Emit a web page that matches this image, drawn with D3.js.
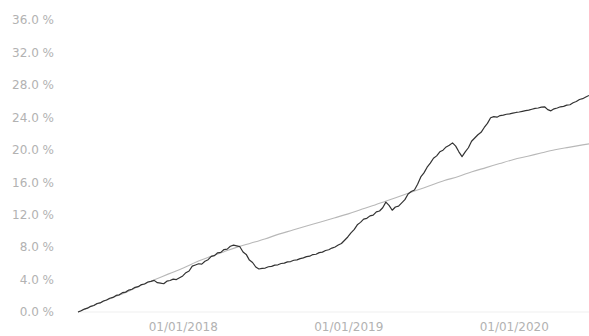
<!DOCTYPE html>
<html>
<head>
<meta charset="utf-8">
<script src="https://cdn.jsdelivr.net/npm/d3@7"></script>
<style>
  html, body { margin: 0; padding: 0; background: #fff; }
  svg { display: block; }
</style>
</head>
<body>
<svg id="chart" width="589" height="336"></svg>
<script>
// Cumulative performance, weekly observations starting at seriesStart
const seriesStart = "2017-05-15";
const portfolioValues = [
  0.00, 0.15, 0.36, 0.47, 0.70, 0.80, 1.05, 1.12, 1.36, 1.48, 1.70, 1.80, 2.04, 2.12, 2.38, 2.45,
  2.70, 2.80, 3.04, 3.12, 3.38, 3.45, 3.70, 3.78, 3.90, 3.62, 3.55, 3.48, 3.80, 3.88, 4.05, 4.00,
  4.22, 4.45, 4.85, 5.05, 5.65, 5.80, 5.95, 5.90, 6.25, 6.45, 6.85, 6.95, 7.30, 7.35, 7.70, 7.75,
  8.10, 8.25, 8.15, 8.05, 7.40, 7.10, 6.40, 6.10, 5.55, 5.30,
  5.38, 5.42, 5.58, 5.62, 5.78, 5.82, 5.98, 6.02, 6.18, 6.22, 6.38, 6.42, 6.58, 6.68, 6.82, 6.88,
  7.08, 7.12, 7.32, 7.38, 7.58, 7.68, 7.88, 8.02, 8.25, 8.45, 8.85, 9.25, 9.75, 10.15, 10.75, 11.05,
  11.45, 11.55, 11.85, 11.95, 12.35, 12.45, 12.85, 13.55, 13.15, 12.55, 12.95, 13.05, 13.45, 13.85,
  14.55, 14.85, 15.05, 15.75, 16.65, 17.15, 17.85, 18.35, 18.95, 19.25, 19.75, 19.95, 20.35, 20.55,
  20.85, 20.45, 19.75, 19.15, 19.75, 20.25, 21.05, 21.45, 21.85, 22.15, 22.75, 23.25, 23.95, 24.08,
  24.02, 24.22, 24.28, 24.38, 24.42, 24.52, 24.60, 24.66, 24.74, 24.82, 24.88,
  25.00, 25.10, 25.15, 25.25, 25.30, 24.95, 24.80, 25.05, 25.15, 25.30, 25.35, 25.50, 25.55, 25.80,
  25.95, 26.20, 26.30, 26.50, 26.70
];

// Reference curve, sampled monthly
const referenceDates = [
  "2017-05-15", "2017-06-01", "2017-07-01", "2017-08-01", "2017-09-01", "2017-10-01", "2017-11-01", "2017-12-01",
  "2018-01-01", "2018-02-01", "2018-03-01", "2018-04-01", "2018-05-01", "2018-06-01", "2018-07-01", "2018-08-01",
  "2018-09-01", "2018-10-01", "2018-11-01", "2018-12-01",
  "2019-01-01", "2019-02-01", "2019-03-01", "2019-04-01", "2019-05-01", "2019-06-01", "2019-07-01", "2019-08-01",
  "2019-09-01", "2019-10-01", "2019-11-01", "2019-12-01",
  "2020-01-01", "2020-02-01", "2020-03-01", "2020-04-01", "2020-05-01", "2020-06-01", "2020-06-22"
];
const referenceValues = [
  0.0, 0.4, 1.1, 1.8, 2.5, 3.3, 4.0, 4.7,
  5.4, 6.2, 6.8, 7.4, 8.0, 8.5, 9.0, 9.6, 10.1, 10.6, 11.1, 11.6,
  12.1, 12.7, 13.2, 13.8, 14.4, 15.0, 15.6, 16.2, 16.7, 17.3, 17.8, 18.3,
  18.8, 19.2, 19.6, 20.0, 20.3, 20.6, 20.8
];

const yTicks = [0, 4, 8, 12, 16, 20, 24, 28, 32, 36];
const xTicks = ["2018-01-01", "2019-01-01", "2020-01-01"];

const parse = d3.timeParse("%Y-%m-%d");
const start = parse(seriesStart);

const portfolio = portfolioValues.map((v, i) => ({ date: d3.timeDay.offset(start, 7 * i), value: v }));
const reference = referenceDates.map((d, i) => ({ date: parse(d), value: referenceValues[i] }));

const svg = d3.select("#chart");

const x = d3.scaleTime()
  .domain([start, portfolio[portfolio.length - 1].date])
  .range([78, 589]);

const y = d3.scaleLinear()
  .domain([0, 36])
  .range([312, 20]);

const labelFont = "DejaVu Sans, sans-serif";
const labelColor = "#b2b2b2";

// Baseline at 0 %
svg.append("line")
  .attr("x1", x.range()[0]).attr("x2", x.range()[1])
  .attr("y1", y(0)).attr("y2", y(0))
  .attr("stroke", "#efefef")
  .attr("stroke-width", 1);

// Y axis labels
const yAxis = d3.axisLeft(y)
  .tickValues(yTicks)
  .tickSize(0)
  .tickPadding(0)
  .tickFormat(d => d3.format(".1f")(d) + " %");

svg.append("g")
  .attr("transform", "translate(54,0)")
  .call(yAxis)
  .call(g => g.select(".domain").remove())
  .call(g => g.selectAll("text")
    .attr("fill", labelColor)
    .attr("font-family", labelFont)
    .attr("font-size", 12));

// X axis labels
const xAxis = d3.axisBottom(x)
  .tickValues(xTicks.map(parse))
  .tickSize(0)
  .tickPadding(0)
  .tickFormat(d3.timeFormat("%d/%m/%Y"));

svg.append("g")
  .attr("transform", "translate(0,322)")
  .call(xAxis)
  .call(g => g.select(".domain").remove())
  .call(g => g.selectAll("text")
    .attr("fill", labelColor)
    .attr("font-family", labelFont)
    .attr("font-size", 12));

const line = d3.line()
  .x(d => x(d.date))
  .y(d => y(d.value));

svg.append("path")
  .datum(reference)
  .attr("fill", "none")
  .attr("stroke", "#b8b8b8")
  .attr("stroke-width", 1.1)
  .attr("d", line.curve(d3.curveMonotoneX));

svg.append("path")
  .datum(portfolio)
  .attr("fill", "none")
  .attr("stroke", "#333")
  .attr("stroke-width", 1.2)
  .attr("stroke-linejoin", "round")
  .attr("d", line.curve(d3.curveLinear));
</script>
</body>
</html>
